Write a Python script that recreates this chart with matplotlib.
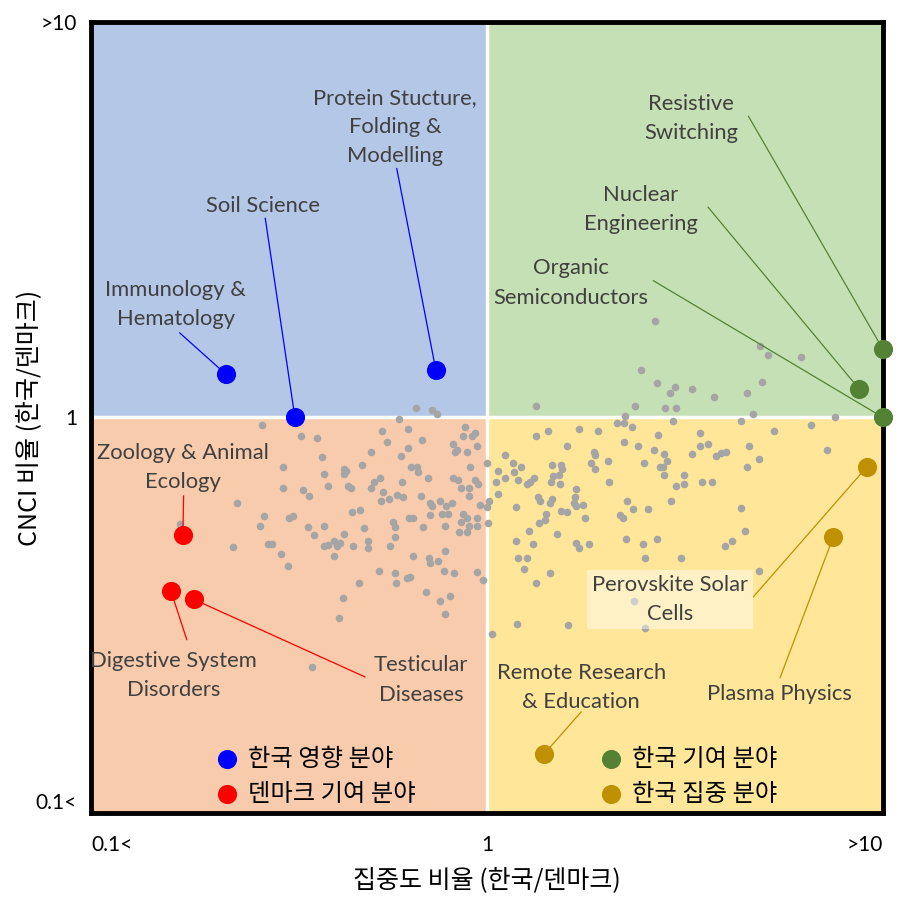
import numpy as np
import matplotlib
matplotlib.use("Agg")
import matplotlib.pyplot as plt

plt.rcParams['font.family'] = ['Noto Sans CJK KR', 'DejaVu Sans']

# ---------- data (log10 of ratio Korea/Denmark) ----------
# all research fields (grey)
grey_conc_log = [
    -0.179, -0.139, -0.126, -0.222, -0.568, -0.199, -0.265, -0.056, -0.030, -0.038,
    -0.061, -0.470, -0.429, -0.253, -0.164, -0.086, -0.025, -0.199, -0.293, -0.081,
    -0.076, -0.051, -0.217, -0.417, -0.316, -0.515, -0.361, -0.356, -0.361, -0.192,
    -0.177, -0.174, -0.043, -0.412, -0.149, -0.270, -0.285, -0.086, -0.073, -0.030,
    -0.023, -0.515, -0.465, -0.402, -0.351, -0.343, -0.293, -0.215, -0.066, -0.045,
    -0.449, -0.263, -0.268, -0.247, -0.227, -0.212, -0.167, -0.144, -0.139, -0.119,
    -0.104, -0.088, -0.045, -0.018, -0.631, -0.341, -0.321, -0.563, -0.500, -0.490,
    -0.144, -0.114, -0.098, -0.061, -0.051, -0.025, -0.197, -0.187, -0.237, -0.232,
    -0.573, -0.452, -0.412, -0.311, -0.162, -0.106, -0.066, -0.045, -0.025, -0.071,
    -0.051, -0.437, -0.361, -0.232, -0.386, -0.371, -0.379, -0.412, -0.402, -0.338,
    -0.301, -0.301, -0.245, -0.553, -0.543, -0.641, -0.520, -0.386, -0.187, -0.146,
    -0.144, -0.124, -0.106, -0.503, -0.273, -0.232, -0.109, -0.083, -0.025, -0.010,
    -0.202, -0.194, -0.323, -0.230, -0.154, -0.093, -0.119, -0.364, -0.374, -0.106,
    -0.442, -0.775,
    0.424, 0.689, 0.710, 0.793, 0.389, 0.694, 0.429, 0.475, 0.462, 0.518,
    0.573, 0.657, 0.124, 0.374, 0.449, 0.477, 0.672, 0.879, 0.348,
    0.328, 0.346, 0.366, 0.470, 0.641, 0.818, 0.725, 0.124, 0.154, 0.232,
    0.280, 0.202, 0.346, 0.381, 0.432, 0.538, 0.422, 0.447, 0.538, 0.558,
    0.518, 0.662, 0.578, 0.591, 0.604, 0.687, 0.859, 0.657, 0.045, 0.066,
    0.086, 0.000, 0.270, 0.273, 0.306, 0.396, 0.164, 0.187, 0.189, 0.263,
    0.273, 0.437, 0.444, 0.455, 0.447, 0.028, 0.068, 0.078, 0.045, 0.023,
    0.101, 0.109, 0.119, 0.167, 0.182, 0.162, 0.184, 0.308, 0.497, 0.477,
    0.497, 0.543, 0.568, 0.028, 0.005, 0.225, 0.222, 0.129, 0.134, 0.164,
    0.159, 0.220, 0.225, 0.242, 0.073, 0.000, 0.354, 0.465, 0.369, 0.407,
    0.336, 0.343, 0.641, 0.149, 0.146, 0.131, 0.187, 0.202, 0.247, 0.003,
    0.106, 0.177, 0.073, 0.116, 0.225, 0.232, 0.258, 0.351, 0.394, 0.429,
    0.652, 0.619, 0.601, 0.078, 0.101, 0.093, 0.159, 0.399, 0.490, 0.124,
    0.687, 0.371, 0.076, 0.205, 0.399, 0.013,
]
grey_cnci_log = [
    0.023, 0.020, 0.008, -0.003, -0.018, -0.028, -0.035, -0.025, -0.040, -0.048,
    -0.048, -0.048, -0.053, -0.061, -0.058, -0.068, -0.073, -0.078, -0.088, -0.088,
    -0.083, -0.088, -0.098, -0.101, -0.119, -0.126, -0.129, -0.136, -0.144, -0.126,
    -0.126, -0.139, -0.124, -0.144, -0.152, -0.152, -0.164, -0.154, -0.157, -0.157,
    -0.169, -0.179, -0.184, -0.174, -0.174, -0.179, -0.179, -0.164, -0.179, -0.179,
    -0.199, -0.189, -0.210, -0.205, -0.197, -0.202, -0.199, -0.215, -0.225, -0.212,
    -0.225, -0.215, -0.199, -0.220, -0.217, -0.240, -0.235, -0.250, -0.253, -0.250,
    -0.247, -0.245, -0.245, -0.245, -0.253, -0.253, -0.253, -0.255, -0.265, -0.278,
    -0.275, -0.278, -0.275, -0.280, -0.278, -0.275, -0.265, -0.275, -0.275, -0.290,
    -0.290, -0.298, -0.295, -0.303, -0.311, -0.318, -0.326, -0.326, -0.323, -0.326,
    -0.313, -0.331, -0.326, -0.321, -0.321, -0.328, -0.346, -0.351, -0.351, -0.356,
    -0.369, -0.364, -0.338, -0.376, -0.389, -0.394, -0.389, -0.394, -0.391, -0.412,
    -0.407, -0.404, -0.419, -0.419, -0.442, -0.452, -0.465, -0.457, -0.508, -0.497,
    -0.631, -0.270,
    0.245, 0.182, 0.159, 0.154, 0.119, 0.091, 0.086, 0.078, 0.061, 0.071,
    0.053, 0.061, 0.030, 0.030, 0.025, 0.023, 0.010, 0.000, 0.003,
    -0.015, -0.013, -0.023, -0.010, -0.008, -0.020, -0.035, -0.048, -0.033, -0.030,
    -0.033, -0.073, -0.061, -0.073, -0.045, -0.040, -0.081, -0.093, -0.073, -0.068,
    -0.093, -0.073, -0.098, -0.091, -0.086, -0.104, -0.081, -0.126, -0.096, -0.114,
    -0.124, -0.114, -0.088, -0.094, -0.111, -0.114, -0.121, -0.119, -0.129, -0.116,
    -0.131, -0.124, -0.126, -0.111, -0.146, -0.136, -0.139, -0.157, -0.152, -0.164,
    -0.167, -0.164, -0.154, -0.149, -0.146, -0.164, -0.169, -0.162, -0.146, -0.172,
    -0.167, -0.162, -0.164, -0.194, -0.210, -0.182, -0.202, -0.202, -0.212, -0.207,
    -0.217, -0.217, -0.225, -0.222, -0.227, -0.227, -0.210, -0.212, -0.232, -0.232,
    -0.247, -0.253, -0.230, -0.245, -0.260, -0.268, -0.237, -0.240, -0.253, -0.268,
    -0.288, -0.295, -0.311, -0.321, -0.318, -0.331, -0.321, -0.308, -0.321, -0.308,
    -0.288, -0.311, -0.326, -0.356, -0.354, -0.384, -0.394, -0.356, -0.354, -0.419,
    -0.389, -0.465, -0.523, -0.525, -0.533, -0.548,
]

# highlighted fields
field_names = [
    "Immunology &\nHematology", "Soil Science", "Protein Stucture,\nFolding &\nModelling",
    "Zoology & Animal\nEcology", "Digestive System\nDisorders", "Testicular\nDiseases",
    "Resistive\nSwitching", "Nuclear\nEngineering", "Organic\nSemiconductors",
    "Perovskite Solar\nCells", "Plasma Physics", "Remote Research\n& Education",
]
field_conc_log = [-0.659, -0.485, -0.129, -0.768, -0.798, -0.740,
                  1.000, 0.939, 1.000, 0.960, 0.874, 0.144]
field_cnci_log = [0.109, 0.000, 0.119, -0.298, -0.439, -0.460,
                  0.172, 0.073, 0.000, -0.124, -0.303, -0.851]
field_group = [0, 0, 0, 1, 1, 1, 2, 2, 2, 3, 3, 3]

group_labels = ["한국 영향 분야", "덴마크 기여 분야", "한국 기여 분야", "한국 집중 분야"]
group_colors = ["#0000FF", "#FF0000", "#548235", "#BF9000"]

tick_vals = [0.1, 1, 10]
x_tick_labels = ["0.1<", "1", ">10"]
y_tick_labels = ["0.1<", "1", ">10"]

# label layout (axes fraction): text centre, leader line start
label_pos = [(0.107, 0.643), (0.217, 0.767), (0.384, 0.867), (0.116, 0.437),
             (0.104, 0.174), (0.417, 0.168), (0.758, 0.878), (0.694, 0.763),
             (0.606, 0.670), (0.731, 0.270), (0.869, 0.150), (0.619, 0.159)]
line_start = [(0.112, 0.607), (0.220, 0.752), (0.386, 0.815), (0.117, 0.401),
              (0.121, 0.219), (0.346, 0.172), (0.830, 0.881), (0.779, 0.766),
              (0.710, 0.673), (0.836, 0.273), (0.870, 0.171), (0.619, 0.128)]

# ---------- plot ----------
fig = plt.figure(figsize=(9.08, 9.08), dpi=100)
ax = fig.add_axes([0.1002, 0.1046, 0.8723, 0.8712])
ax.set_xscale('log')
ax.set_yscale('log')
ax.set_xlim(0.1, 10)
ax.set_ylim(0.1, 10)

# quadrants
ax.axvspan(0.1, 1, ymin=0.5, ymax=1, color='#B4C7E7', lw=0, zorder=0)
ax.axvspan(1, 10, ymin=0.5, ymax=1, color='#C5E0B4', lw=0, zorder=0)
ax.axvspan(0.1, 1, ymin=0, ymax=0.5, color='#F8CBAD', lw=0, zorder=0)
ax.axvspan(1, 10, ymin=0, ymax=0.5, color='#FFE699', lw=0, zorder=0)
ax.axhline(1, color='white', lw=2.5, zorder=1)
ax.axvline(1, color='white', lw=2.5, zorder=1)

ax.scatter(10 ** np.array(grey_conc_log), 10 ** np.array(grey_cnci_log),
           s=30, color='#A5A5A5', lw=0, zorder=2)

txt_font = ['Lato', 'DejaVu Sans']
for i, name in enumerate(field_names):
    c = group_colors[field_group[i]]
    px, py = 10 ** field_conc_log[i], 10 ** field_cnci_log[i]
    ax.scatter(px, py, s=190, color=c, lw=0, zorder=5, clip_on=False)
    ax.annotate('', xy=(px, py), xycoords='data',
                xytext=line_start[i], textcoords='axes fraction',
                arrowprops=dict(arrowstyle='-', color=c, lw=0.9,
                                shrinkA=0, shrinkB=0), zorder=4)
    bbox = None
    if name.startswith("Perovskite"):
        bbox = dict(boxstyle='square,pad=0.22', fc='white', ec='none', alpha=0.45)
    ax.text(label_pos[i][0], label_pos[i][1], name, transform=ax.transAxes,
            ha='center', va='center', fontsize=15.8, color='#404040',
            family=txt_font, linespacing=1.58, zorder=6, bbox=bbox)

# legend
leg_xy = [(0.172, 0.068), (0.172, 0.024), (0.657, 0.068), (0.657, 0.024)]
for k, lab in enumerate(group_labels):
    lx, ly = leg_xy[k]
    ax.scatter(lx, ly, s=190, color=group_colors[k], lw=0,
               transform=ax.transAxes, zorder=6)
    ax.text(lx + 0.026, ly, lab, transform=ax.transAxes, ha='left', va='center',
            fontsize=17.5, color='black', zorder=6)

# axes styling
for sp in ax.spines.values():
    sp.set_linewidth(3.5)
    sp.set_color('black')
ax.minorticks_off()
ax.set_xticks(tick_vals)
ax.set_xticklabels(x_tick_labels, family=txt_font, fontsize=15)
ax.set_yticks(tick_vals)
ax.set_yticklabels(y_tick_labels, family=txt_font, fontsize=15)
ax.tick_params(axis='both', length=0)
ax.tick_params(axis='x', pad=16)
ax.tick_params(axis='y', pad=10)
xl = ax.get_xticklabels()
xl[0].set_ha('left')
xl[2].set_ha('right')
yl = ax.get_yticklabels()
yl[0].set_va('bottom')

ax.set_xlabel("집중도 비율 (한국/덴마크)", fontsize=18, va='center')
ax.set_ylabel("CNCI 비율 (한국/덴마크)", fontsize=18, va='center')
ax.xaxis.set_label_coords(0.5, -0.085)
ax.yaxis.set_label_coords(-0.077, 0.5)

fig.savefig("out.png", dpi=100)
